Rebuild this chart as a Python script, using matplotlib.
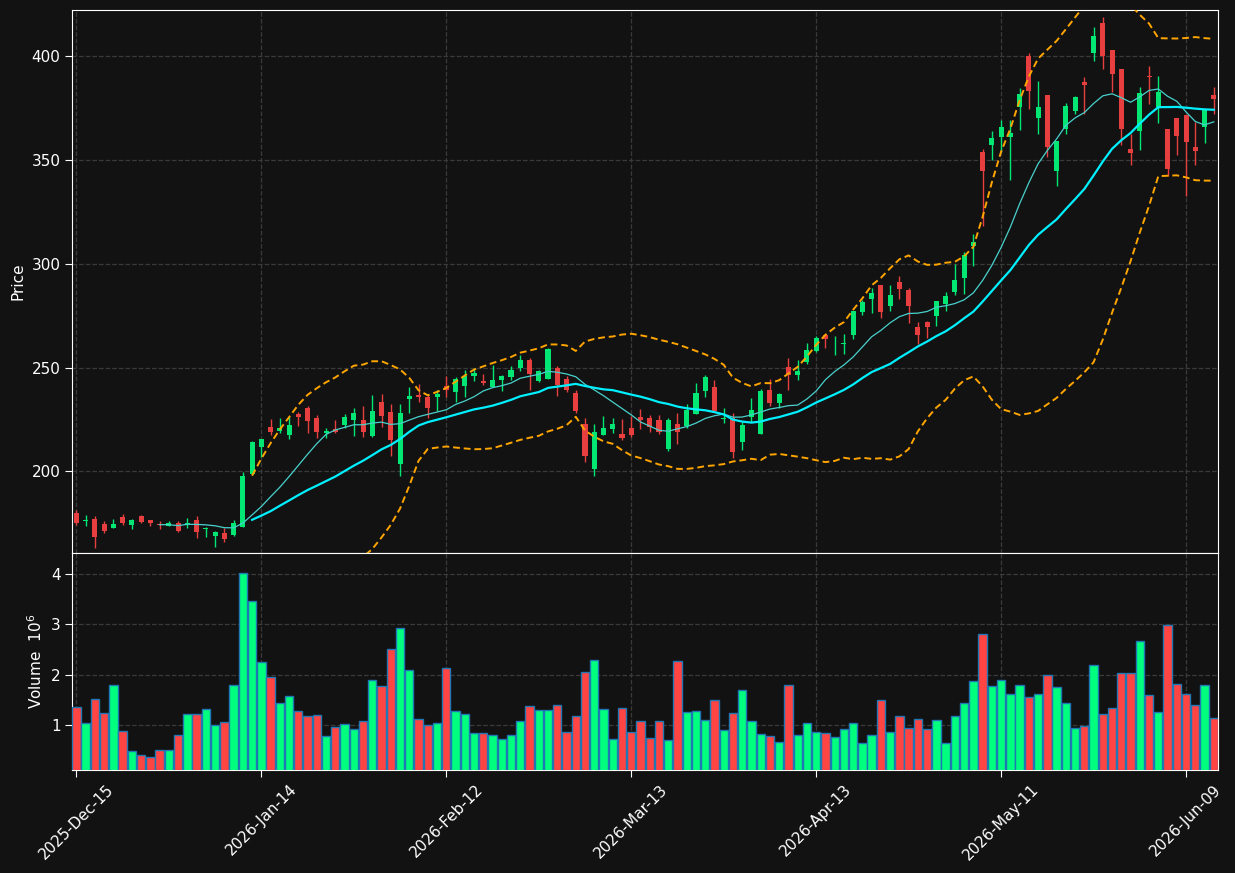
import numpy as np
import pandas as pd
import matplotlib
matplotlib.use("Agg")
import matplotlib.pyplot as plt

# ---------------- DATA ---------------- #
holidays = ["2025-12-25", "2026-01-01", "2026-01-19", "2026-02-16", "2026-04-03", "2026-05-25"]
dates = pd.bdate_range("2025-12-15", "2026-06-12")
dates = dates[~dates.isin(pd.to_datetime(holidays))]

opens = [180.1, 176.0, 177.1, 174.6, 172.9, 178.0, 174.3, 178.5, 176.6, 174.6,
         173.9, 175.1, 174.8, 176.6, 172.2, 168.9, 170.3, 169.4, 173.4, 198.7,
         211.8, 221.3, 219.4, 217.6, 227.5, 230.4, 225.9, 218.7, 220.3, 222.3,
         224.6, 224.6, 217.0, 233.3, 228.5, 203.5, 234.9, 236.7, 235.7, 235.7,
         241.0, 238.1, 241.0, 245.8, 243.4, 240.4, 243.9, 245.5, 249.8, 253.5,
         243.6, 244.5, 249.8, 244.4, 237.6, 222.7, 201.3, 217.6, 220.2, 217.9,
         220.8, 226.1, 225.6, 224.7, 210.7, 222.7, 221.8, 227.5, 238.6, 240.5,
         225.3, 225.5, 214.2, 226.3, 217.8, 239.1, 233.0, 250.1, 246.5, 252.7,
         258.0, 265.5, 261.1, 261.2, 265.5, 276.8, 283.0, 289.6, 279.7, 291.0,
         287.2, 269.4, 271.8, 274.8, 280.4, 286.4, 293.1, 308.3, 354.0, 356.9,
         361.2, 360.9, 375.6, 400.1, 370.0, 381.4, 344.5, 364.7, 373.4, 387.6,
         401.3, 416.0, 403.0, 393.9, 355.1, 363.8, 390.6, 375.3, 365.0, 370.3,
         371.8, 356.4, 365.7, 381.4]
highs = [181.4, 179.0, 178.5, 176.0, 176.9, 179.3, 177.0, 179.0, 176.6, 176.0,
         176.1, 176.1, 177.4, 178.4, 173.1, 171.3, 172.9, 176.6, 199.8, 214.5,
         215.6, 225.0, 225.5, 226.3, 228.7, 231.4, 227.1, 221.1, 224.7, 227.4,
         230.7, 231.7, 236.7, 237.2, 232.4, 232.4, 240.7, 242.0, 236.7, 239.4,
         245.8, 245.5, 248.7, 250.0, 247.1, 251.4, 246.3, 250.6, 255.9, 254.8,
         249.0, 259.6, 250.6, 246.0, 239.1, 225.9, 222.7, 226.6, 225.9, 225.0,
         226.6, 229.8, 227.1, 227.1, 225.9, 227.9, 232.2, 242.4, 246.3, 243.9,
         230.3, 228.3, 223.9, 235.1, 239.7, 244.7, 237.8, 254.6, 253.8, 261.8,
         265.2, 266.3, 265.1, 265.9, 277.1, 282.4, 288.3, 289.6, 289.9, 294.2,
         288.5, 271.8, 272.4, 282.0, 286.2, 300.0, 305.6, 314.4, 355.3, 364.1,
         369.2, 369.2, 384.6, 401.4, 388.0, 381.4, 359.3, 377.5, 380.9, 390.0,
         414.1, 418.9, 403.0, 393.9, 362.5, 384.9, 395.3, 390.4, 365.0, 370.3,
         371.8, 368.1, 374.7, 385.2]
lows = [174.2, 173.7, 163.0, 170.2, 172.9, 174.0, 172.4, 175.3, 173.5, 172.4,
        173.7, 171.0, 172.6, 168.1, 168.6, 163.8, 166.0, 168.9, 173.4, 198.0,
        207.0, 217.3, 218.3, 215.4, 221.9, 218.7, 216.2, 216.2, 218.3, 221.1,
        217.1, 216.6, 216.3, 221.5, 207.5, 197.9, 227.9, 233.5, 225.9, 229.2,
        235.9, 233.5, 235.9, 243.6, 241.5, 240.4, 238.8, 243.9, 248.4, 239.4,
        242.8, 244.5, 236.2, 238.3, 227.9, 204.6, 197.9, 217.6, 218.3, 215.0,
        216.3, 220.3, 219.0, 218.2, 209.8, 213.4, 220.8, 227.5, 235.6, 229.0,
        223.1, 206.2, 210.2, 223.9, 217.8, 231.4, 230.3, 239.1, 244.2, 251.9,
        257.5, 259.6, 255.9, 256.4, 263.9, 275.5, 276.4, 274.0, 277.2, 283.2,
        271.2, 261.2, 264.4, 270.0, 277.2, 284.8, 285.6, 298.7, 317.9, 350.0,
        353.7, 340.4, 364.4, 374.5, 362.5, 351.3, 337.3, 362.5, 372.1, 372.1,
        397.7, 393.7, 382.5, 357.2, 347.6, 354.8, 376.9, 367.6, 342.1, 352.1,
        332.8, 347.6, 358.0, 372.1]
closes = [175.3, 176.2, 168.6, 171.5, 174.6, 175.3, 176.6, 175.6, 175.3, 174.2,
          175.3, 171.5, 175.1, 171.0, 172.4, 170.8, 167.5, 175.0, 197.7, 214.0,
          215.5, 218.9, 220.8, 222.3, 226.1, 224.3, 219.0, 219.5, 219.0, 226.4,
          228.0, 219.0, 229.0, 226.7, 215.0, 228.0, 236.2, 235.9, 230.4, 237.2,
          239.1, 244.4, 245.8, 247.4, 242.6, 243.9, 245.8, 248.7, 253.5, 246.8,
          248.2, 258.8, 241.5, 239.1, 229.2, 207.4, 219.0, 220.8, 222.7, 216.0,
          217.4, 224.7, 221.5, 219.0, 224.7, 219.0, 229.5, 237.6, 245.3, 229.0,
          225.7, 209.4, 222.2, 229.5, 238.6, 233.0, 237.2, 246.3, 248.2, 258.3,
          264.1, 263.9, 261.3, 261.5, 277.1, 281.4, 286.1, 276.8, 284.8, 287.7,
          279.5, 265.5, 269.4, 281.9, 284.3, 292.0, 304.0, 310.4, 344.6, 360.3,
          366.0, 363.1, 381.7, 383.3, 375.6, 356.1, 359.3, 376.1, 380.4, 385.9,
          409.8, 400.1, 391.3, 364.7, 353.5, 382.4, 390.1, 382.9, 345.5, 361.7,
          358.5, 354.1, 374.7, 379.5]
volumes = [1.36, 1.04, 1.51, 1.24, 1.79, 0.88, 0.49, 0.41, 0.37, 0.50,
           0.50, 0.80, 1.22, 1.22, 1.32, 1.00, 1.06, 1.79, 4.01, 3.46,
           2.25, 1.95, 1.44, 1.57, 1.28, 1.18, 1.20, 0.78, 0.96, 1.02,
           0.92, 1.08, 1.89, 1.77, 2.50, 2.92, 2.09, 1.12, 1.00, 1.04,
           2.13, 1.28, 1.22, 0.84, 0.84, 0.80, 0.72, 0.80, 1.08, 1.38,
           1.30, 1.30, 1.40, 0.86, 1.18, 2.05, 2.29, 1.32, 0.72, 1.34,
           0.86, 1.08, 0.74, 1.08, 0.70, 2.27, 1.26, 1.28, 1.10, 1.50,
           0.90, 1.24, 1.69, 1.08, 0.82, 0.78, 0.66, 1.79, 0.80, 1.04,
           0.86, 0.84, 0.76, 0.92, 1.04, 0.64, 0.80, 1.50, 0.86, 1.18,
           0.94, 1.12, 0.92, 1.10, 0.64, 1.18, 1.44, 1.87, 2.80, 1.77,
           1.89, 1.61, 1.79, 1.55, 1.61, 1.99, 1.75, 1.44, 0.94, 0.98,
           2.20, 1.22, 1.34, 2.03, 2.03, 2.66, 1.59, 1.26, 2.98, 1.81,
           1.61, 1.40, 1.79, 1.14]  # millions

# ---------------- INDICATORS ---------------- #
close_s = pd.Series(closes)
ma10 = close_s.rolling(10).mean()
ma20 = close_s.rolling(20).mean()
std20 = close_s.rolling(20).std()
bb_up = ma20 + 2 * std20
bb_lo = ma20 - 2 * std20

# ---------------- STYLE ---------------- #
bg = "#121212"
up_col = "#02e774"
down_col = "#e73f3f"
vol_up = "#00ff7f"
vol_down = "#ff4444"
grid_col = "#3a3a3a"

fig = plt.figure(figsize=(12.35, 8.73), dpi=100, facecolor=bg)
ax = fig.add_axes([0.0585, 0.3666, 0.9277, 0.6216], facecolor=bg)
axv = fig.add_axes([0.0585, 0.1180, 0.9277, 0.2486], facecolor=bg, sharex=ax)

x = np.arange(len(closes))
o = np.array(opens)
c = np.array(closes)
up = c >= o

# candles
body_bottom = np.minimum(o, c)
body_height = np.maximum(np.abs(c - o), 0.4)
colors = np.where(up, up_col, down_col)
ax.vlines(x, lows, highs, colors=colors, linewidth=1.0, zorder=3)
ax.bar(x, body_height, bottom=body_bottom, width=0.55, color=colors, linewidth=0, zorder=4)

# overlays
ax.plot(x, ma10, color="#48d1cc", linewidth=0.9, zorder=5)
ax.plot(x, ma20, color="#00f0ff", linewidth=1.6, zorder=5)
ax.plot(x, bb_up, color="orange", linewidth=1.4, linestyle=(0, (3.5, 2)), zorder=5)
ax.plot(x, bb_lo, color="orange", linewidth=1.4, linestyle=(0, (3.5, 2)), zorder=5)

# volume
vcolors = np.where(up, vol_up, vol_down)
axv.bar(x, volumes, width=0.9, color=vcolors, edgecolor="#1f77b4", linewidth=1.0, zorder=3)

# axes cosmetics
ax.set_xlim(-0.45, 123.45)
ax.set_ylim(160.7, 422.0)
axv.set_ylim(0.3 * min(volumes), 1.1 * max(volumes))
ax.set_yticks([200, 250, 300, 350, 400])
axv.set_yticks([1, 2, 3, 4])

tick_pos = list(range(0, len(dates), 20))
axv.set_xticks(tick_pos)
axv.set_xticklabels([dates[i].strftime("%Y-%b-%d") for i in tick_pos], rotation=45)
plt.setp(ax.get_xticklabels(), visible=False)

for a in (ax, axv):
    a.grid(True, linestyle="--", color=grid_col, linewidth=0.9)
    a.set_axisbelow(True)
    for s in a.spines.values():
        s.set_color("white")
    a.tick_params(colors="white", labelsize=11, length=5)

ax.tick_params(axis="x", length=0)
ax.set_ylabel("Price", color="white", fontsize=11)
axv.set_ylabel("Volume  $10^{6}$", color="white", fontsize=11)

fig.savefig("out.png", dpi=100, facecolor=bg)
